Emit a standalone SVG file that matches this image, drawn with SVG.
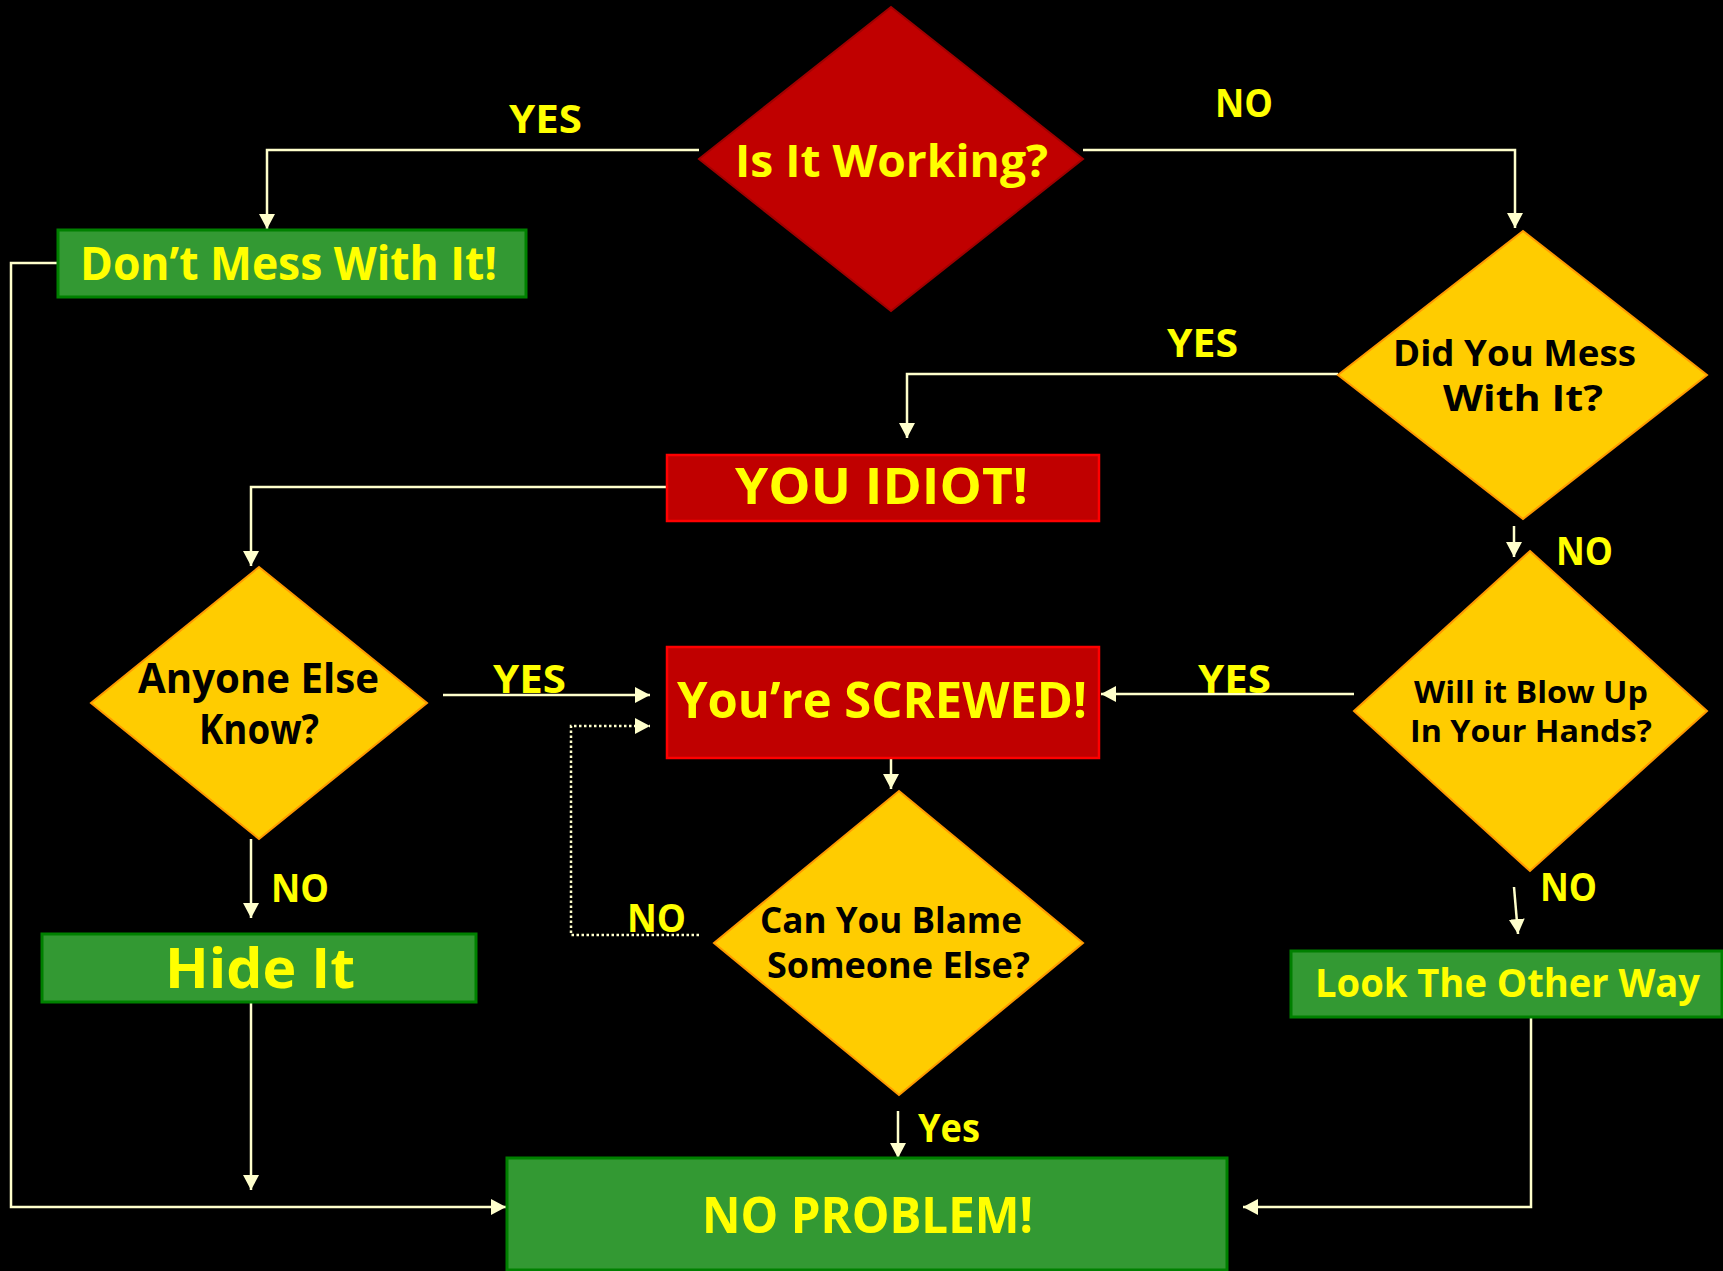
<svg xmlns="http://www.w3.org/2000/svg" width="1723" height="1271" viewBox="0 0 1723 1271">
<style>
text{font-family:"Comic Sans MS","Open Sans","Liberation Sans",sans-serif;font-weight:bold}
.ty{fill:#FFFF00}
.tb{fill:#000000}
.lbl{fill:#FFFF00;font-size:40px}
.dred{fill:#C00000;stroke:#A00000;stroke-width:2}
.dyel{fill:#FFCC00;stroke:#FF9900;stroke-width:2}
.bred{fill:#C00000;stroke:#FF0000;stroke-width:2.5}
.bgrn{fill:#339933;stroke:#008000;stroke-width:3}
.c{fill:none;stroke:#FFFFCC;stroke-width:2.5}
.dot{stroke-dasharray:2.5 2.5}
</style>
<defs>
<marker id="arr" markerUnits="userSpaceOnUse" markerWidth="16" markerHeight="16" refX="15" refY="8" orient="auto">
<path d="M0,0 L15,8 L0,16 z" fill="#FFFFCC"/>
</marker>
</defs>
<rect width="1723" height="1271" fill="#000000"/>

<g id="connectors">
<path class="c" d="M699,150 H267 V229" marker-end="url(#arr)"/>
<path class="c" d="M1083,150 H1515 V228" marker-end="url(#arr)"/>
<path class="c" d="M1338,374 H907 V438" marker-end="url(#arr)"/>
<path class="c" d="M1514,526 V557" marker-end="url(#arr)"/>
<path class="c" d="M666,487 H251 V566" marker-end="url(#arr)"/>
<path class="c" d="M443,695 H650" marker-end="url(#arr)"/>
<path class="c" d="M1354,694 H1101" marker-end="url(#arr)"/>
<path class="c" d="M891,759 V789" marker-end="url(#arr)"/>
<path class="c dot" d="M699,935 H571 V726 H650" marker-end="url(#arr)"/>
<path class="c" d="M898,1111 V1158" marker-end="url(#arr)"/>
<path class="c" d="M251,839 V918" marker-end="url(#arr)"/>
<path class="c" d="M251,1003 V1190" marker-end="url(#arr)"/>
<path class="c" d="M58,263 H11 V1207 H506" marker-end="url(#arr)"/>
<path class="c" d="M1514,887 L1518,934" marker-end="url(#arr)"/>
<path class="c" d="M1531,1018 V1207 H1243" marker-end="url(#arr)"/>
</g>

<g id="labels">
<text class="lbl" x="509" y="133" textLength="73" lengthAdjust="spacingAndGlyphs">YES</text>
<text class="lbl" x="1215" y="117" textLength="58" lengthAdjust="spacingAndGlyphs">NO</text>
<text class="lbl" x="1167" y="357" textLength="71" lengthAdjust="spacingAndGlyphs">YES</text>
<text class="lbl" x="493" y="693" textLength="73" lengthAdjust="spacingAndGlyphs">YES</text>
<text class="lbl" x="1198" y="693" textLength="73" lengthAdjust="spacingAndGlyphs">YES</text>
<text class="lbl" x="1556" y="565" textLength="57" lengthAdjust="spacingAndGlyphs">NO</text>
<text class="lbl" x="271" y="902" textLength="58" lengthAdjust="spacingAndGlyphs">NO</text>
<text class="lbl" x="627" y="932" textLength="59" lengthAdjust="spacingAndGlyphs">NO</text>
<text class="lbl" x="1540" y="901" textLength="57" lengthAdjust="spacingAndGlyphs">NO</text>
<text class="lbl" x="918" y="1142" textLength="62" lengthAdjust="spacingAndGlyphs">Yes</text>
</g>

<g id="is-it-working">
<polygon class="dred" points="891,7 1083,159 891,311 699,159"/>
<text class="ty" x="735" y="177" font-size="44" textLength="313" lengthAdjust="spacingAndGlyphs">Is It Working?</text>
</g>

<g id="dont-mess">
<rect class="bgrn" x="58" y="230" width="468" height="67"/>
<text class="ty" x="80" y="280" font-size="46" textLength="417" lengthAdjust="spacingAndGlyphs">Don’t Mess With It!</text>
</g>

<g id="did-you-mess">
<polygon class="dyel" points="1523,231 1707,375 1523,519 1338,375"/>
<text class="tb" x="1393" y="366" font-size="36" textLength="243" lengthAdjust="spacingAndGlyphs">Did You Mess</text>
<text class="tb" x="1443" y="411" font-size="36" textLength="160" lengthAdjust="spacingAndGlyphs">With It?</text>
</g>

<g id="you-idiot">
<rect class="bred" x="667" y="455" width="432" height="66"/>
<text class="ty" x="735" y="504" font-size="50" textLength="293" lengthAdjust="spacingAndGlyphs">YOU IDIOT!</text>
</g>

<g id="anyone-else">
<polygon class="dyel" points="259,567 427,703 259,839 91,703"/>
<text class="tb" x="138" y="693" font-size="41" textLength="241" lengthAdjust="spacingAndGlyphs">Anyone Else</text>
<text class="tb" x="199" y="744" font-size="41" textLength="120" lengthAdjust="spacingAndGlyphs">Know?</text>
</g>

<g id="screwed">
<rect class="bred" x="667" y="647" width="432" height="111"/>
<text class="ty" x="677" y="718" font-size="50" textLength="410" lengthAdjust="spacingAndGlyphs">You’re SCREWED!</text>
</g>

<g id="blow-up">
<polygon class="dyel" points="1530,551 1707,711 1530,871 1354,711"/>
<text class="tb" x="1414" y="703" font-size="31" textLength="234" lengthAdjust="spacingAndGlyphs">Will it Blow Up</text>
<text class="tb" x="1410" y="742" font-size="31" textLength="242" lengthAdjust="spacingAndGlyphs">In Your Hands?</text>
</g>

<g id="blame">
<polygon class="dyel" points="899,791 1083,943 899,1095 714,943"/>
<text class="tb" x="760" y="933" font-size="35" textLength="262" lengthAdjust="spacingAndGlyphs">Can You Blame</text>
<text class="tb" x="767" y="978" font-size="35" textLength="263" lengthAdjust="spacingAndGlyphs">Someone Else?</text>
</g>

<g id="hide-it">
<rect class="bgrn" x="42" y="934" width="434" height="68"/>
<text class="ty" x="165" y="988" font-size="55" textLength="190" lengthAdjust="spacingAndGlyphs">Hide It</text>
</g>

<g id="look-other-way">
<rect class="bgrn" x="1291" y="951" width="431" height="66"/>
<text class="ty" x="1315" y="997" font-size="39" textLength="385" lengthAdjust="spacingAndGlyphs">Look The Other Way</text>
</g>

<g id="no-problem">
<rect class="bgrn" x="507" y="1158" width="720" height="112"/>
<text class="ty" x="702" y="1233" font-size="50" textLength="331" lengthAdjust="spacingAndGlyphs">NO PROBLEM!</text>
</g>
</svg>
